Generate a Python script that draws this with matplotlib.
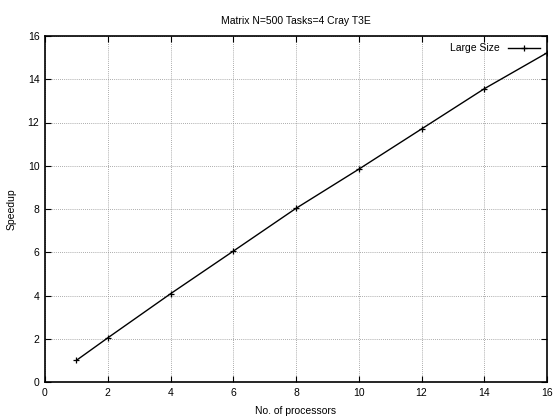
import numpy as np
import matplotlib
matplotlib.use("Agg")
import matplotlib.pyplot as plt

plt.rcParams['font.family'] = ['Liberation Sans', 'DejaVu Sans']
plt.rcParams['font.size'] = 7.5

procs = [1, 2, 4, 6, 8, 10, 12, 14, 16]
speedup = [1.0, 2.04, 4.08, 6.05, 8.03, 9.84, 11.7, 13.56, 15.22]

fig = plt.figure(figsize=(5.6, 4.18), dpi=100)
ax = fig.add_axes([45/560, 1-382/418, (547-45)/560, (382-36)/418])

ax.plot(procs, speedup, color='black', lw=1, marker='+', ms=5, mew=0.9,
        label='Large Size')

ax.set_xlim(0, 16)
ax.set_ylim(0, 16)
ax.set_xticks(np.arange(0, 17, 2))
ax.set_yticks(np.arange(0, 17, 2))
ax.grid(True, color='#909090', ls=(0, (1, 1.5)), lw=0.6)
ax.tick_params(direction='in', top=True, right=True, length=4, width=0.8, pad=4)
for s in ax.spines.values():
    s.set_linewidth(1.2)

ax.set_title('Matrix N=500 Tasks=4 Cray T3E', fontsize=7.5, pad=9)
ax.set_xlabel('No. of processors', labelpad=6)
ax.set_ylabel('Speedup', labelpad=8)

leg = ax.legend(loc='upper right', frameon=False, markerfirst=False,
                handlelength=3, borderaxespad=0.3, fontsize=7.5)

fig.savefig('out.png', dpi=100)
